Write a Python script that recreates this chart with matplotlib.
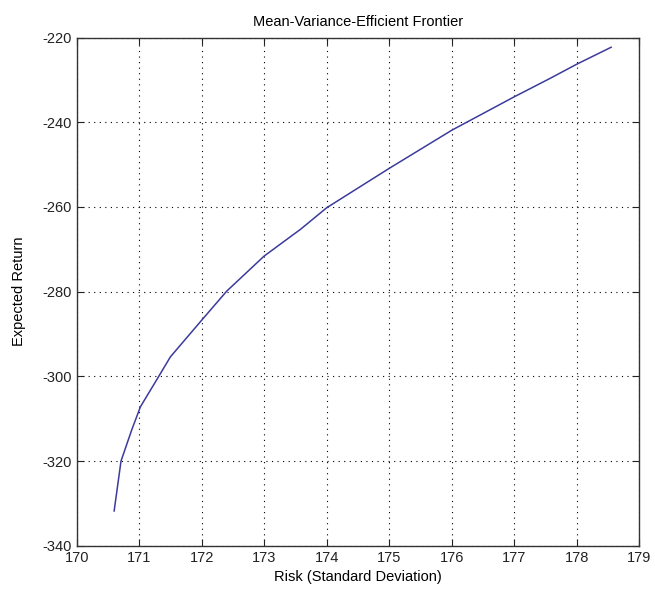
import matplotlib.pyplot as plt

risk = [170.60, 170.71, 170.88, 171.02, 171.31, 171.50, 171.98, 172.40, 173.00,
        173.58, 174.00, 175.00, 176.00, 177.00, 177.58, 178.00, 178.55]
ret = [-331.8, -320.0, -312.7, -307.2, -300.1, -295.4, -287.1, -279.9, -271.6,
       -265.3, -260.2, -250.9, -241.9, -234.0, -229.6, -226.3, -222.3]

plt.rcParams["font.family"] = ["Liberation Sans", "DejaVu Sans"]
plt.rcParams["font.size"] = 10.5
plt.rcParams["axes.unicode_minus"] = False

fig = plt.figure(figsize=(6.55, 6.05), dpi=100)
ax = fig.add_axes([0.117, 0.098, 0.859, 0.840])

ax.plot(risk, ret, color="#3b3b9c", linewidth=1.1)

ax.set_xlim(170, 179)
ax.set_ylim(-340, -220)
ax.set_xticks(range(170, 180))
ax.set_yticks(range(-340, -219, 20))
ax.grid(True, color="black", linestyle=(0, (1, 4)), linewidth=0.8)
ax.tick_params(direction="in", top=True, right=True, length=5, colors="#222222", labelsize=10.5)
for s in ax.spines.values():
    s.set_color("#333333")
    s.set_linewidth(1.0)

ax.set_title("Mean-Variance-Efficient Frontier", fontsize=10.5, pad=8)
ax.set_xlabel("Risk (Standard Deviation)", fontsize=10.5)
ax.set_ylabel("Expected Return", fontsize=10.5, labelpad=12)

fig.savefig("out.png", dpi=100)
